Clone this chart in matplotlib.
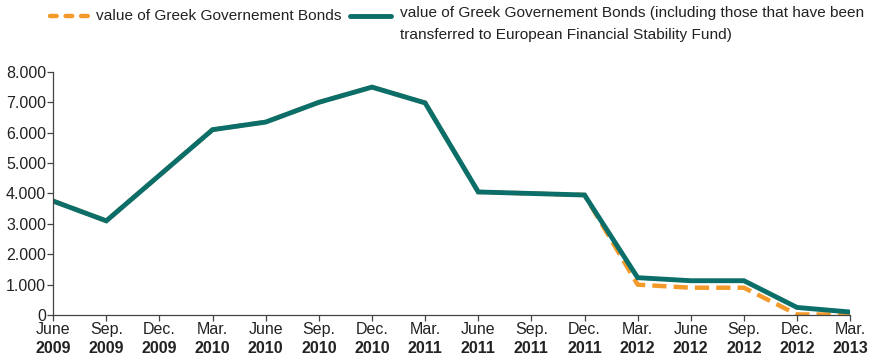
"""
Value of Greek government bonds held, June 2009 - March 2013.
"""

import matplotlib.pyplot as plt
from matplotlib.lines import Line2D

# Data
MONTHS = ["June", "Sep.", "Dec.", "Mar.", "June", "Sep.", "Dec.", "Mar.",
          "June", "Sep.", "Dec.", "Mar.", "June", "Sep.", "Dec.", "Mar."]
YEARS = ["2009", "2009", "2009", "2010", "2010", "2010", "2010", "2011",
         "2011", "2011", "2011", "2012", "2012", "2012", "2012", "2013"]
BONDS = [3750, 3100, 4600, 6100, 6350, 7000, 7500, 6980,
         4050, 4000, 3950, 1000, 900, 900, 20, 20]
BONDS_INCL_EFSF = [3750, 3100, 4600, 6100, 6350, 7000, 7500, 6980,
                   4050, 4000, 3950, 1230, 1130, 1130, 250, 100]
Y_TICKS = [0, 1000, 2000, 3000, 4000, 5000, 6000, 7000, 8000]
Y_LABELS = ["0", "1.000", "2.000", "3.000", "4.000", "5.000", "6.000", "7.000", "8.000"]

LABEL_BONDS = "value of Greek Governement Bonds"
LABEL_EFSF = ("value of Greek Governement Bonds (including those that have been\n"
              "transferred to European Financial Stability Fund)")

ORANGE = "#f39a2b"
TEAL = "#0b6e69"
TEXT = "#222222"

plt.rcParams["font.family"] = ["Liberation Sans", "DejaVu Sans"]

fig = plt.figure(figsize=(8.72, 3.56), dpi=100)
ax = fig.add_axes([0.061, 0.115, 0.914, 0.683])

x = list(range(len(MONTHS)))
ax.plot(x, BONDS, color=ORANGE, lw=3.2, dashes=(3.2, 1.6), solid_capstyle="butt")
ax.plot(x, BONDS_INCL_EFSF, color=TEAL, lw=3.5, solid_joinstyle="miter")

ax.set_xlim(0, len(MONTHS) - 1)
ax.set_ylim(0, 8000)
ax.set_yticks(Y_TICKS)
ax.set_yticklabels(Y_LABELS, fontsize=11.5, color=TEXT)
ax.set_xticks(x)
ax.set_xticklabels(MONTHS, fontsize=11.5, color=TEXT)
for xi, yr in zip(x, YEARS):
    ax.text(xi, -0.105, yr, transform=ax.get_xaxis_transform(), ha="center",
            va="top", fontsize=11.5, fontweight="bold", color=TEXT)

for side in ["top", "right"]:
    ax.spines[side].set_visible(False)
for side in ["left", "bottom"]:
    ax.spines[side].set_color("#444444")
    ax.spines[side].set_linewidth(0.9)
ax.tick_params(direction="out", length=4, width=0.9, color="#444444", pad=1)

# legend drawn by hand along the top
y_leg = 1 - 16 / 356
fig.add_artist(Line2D([50 / 872, 88 / 872], [y_leg] * 2, color=ORANGE,
                      lw=3.2, dashes=(1.5, 2.0), dash_capstyle="round",
                      transform=fig.transFigure))
fig.text(96 / 872, y_leg, LABEL_BONDS, fontsize=11.1, va="center", color=TEXT)
fig.add_artist(Line2D([350 / 872, 391 / 872], [y_leg] * 2, color=TEAL,
                      lw=3.5, solid_capstyle="round", transform=fig.transFigure))
fig.text(400 / 872, 1 - 6 / 356, LABEL_EFSF, fontsize=11.1, va="top",
         color=TEXT, linespacing=1.75)

fig.savefig("out.png", dpi=100)
